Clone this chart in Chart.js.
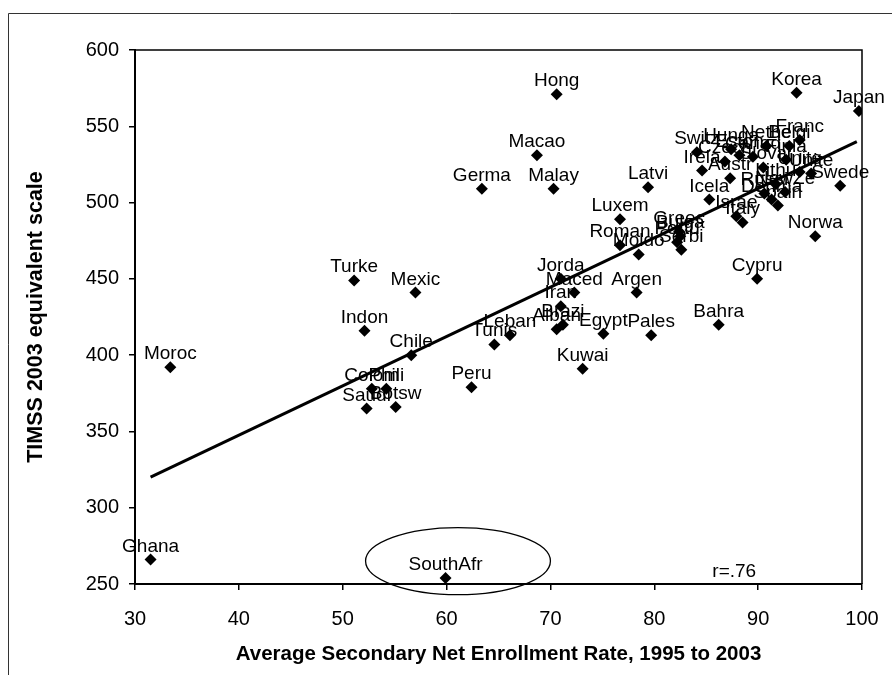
<!DOCTYPE html>
<html>
<head>
<meta charset="utf-8">
<script src="https://cdn.jsdelivr.net/npm/chart.js@4.4.0/dist/chart.umd.min.js"></script>
<style>
  html, body { margin: 0; padding: 0; background: #fff; }
  #wrap { width: 892px; height: 675px; }
</style>
</head>
<body>
<div id="wrap"><canvas id="chart" width="892" height="675"></canvas></div>
<script>
// country labels as printed on the figure (truncated to 5 letters)
const countries = [
  'Ghana', 'Moroc', 'SouthAfr', 'Turke', 'Mexic', 'Indon', 'Chile',
  'Colom', 'Phili', 'Saudi', 'Botsw', 'Peru', 'Tunis', 'Leban',
  'Germa', 'Malay', 'Macao', 'Hong', 'Jorda', 'Maced', 'Iran',
  'Alban', 'Brazi', 'Egypt', 'Pales', 'Kuwai', 'Argen', 'Luxem',
  'Roman', 'Moldo', 'Latvi', 'Bahra', 'Cypru', 'Norwa', 'Swede',
  'Japan', 'Korea', 'Icela', 'Israe', 'Italy',
  'Greec', 'Bulga', 'Portu', 'Serbi',
  'Switz', 'Irela', 'Hunga', 'Czech', 'Eston', 'Nethe', 'Belgi',
  'Franc', 'Canad', 'Slova', 'Unite', 'Unite', 'Finla', 'Austr',
  'Lithu', 'NewZe', 'Russi', 'Denma', 'Spain'
];
// average secondary net enrollment rate, 1995-2003
const enrollment = [
  31.5, 33.4, 59.9, 51.1, 57.0, 52.1, 56.6,
  52.8, 54.2, 52.3, 55.1, 62.4, 64.6, 66.1,
  63.4, 70.3, 68.7, 70.6, 71.0, 72.3, 71.0,
  70.6, 71.2, 75.1, 79.7, 73.1, 78.3, 76.7,
  76.7, 78.5, 79.4, 86.2, 89.9, 95.5, 97.9,
  99.7, 93.7, 85.3, 87.9, 88.5,
  82.4, 82.5, 82.2, 82.6,
  84.1, 84.6, 87.4, 86.8, 88.2, 90.8, 93.0,
  94.0, 89.5, 90.5, 94.0, 95.1, 92.7, 87.3,
  91.7, 92.6, 90.6, 91.3, 91.9
];
// TIMSS 2003 equivalent score
const scores = [
  266, 392, 254, 449, 441, 416, 400,
  378, 378, 365, 366, 379, 407, 413,
  509, 509, 531, 571, 450, 441, 432,
  417, 420, 414, 413, 391, 441, 489,
  472, 466, 510, 420, 450, 478, 511,
  560, 572, 502, 491, 487,
  481, 478, 474, 469,
  533, 521, 535, 527, 531, 537, 537,
  541, 530, 523, 520, 519, 528, 516,
  512, 507, 506, 502, 498
];
// fitted regression line end points
const fitX = [31.5, 99.5];
const fitY = [320, 540];
const xTicks = [30, 40, 50, 60, 70, 80, 90, 100];
const yTicks = [250, 300, 350, 400, 450, 500, 550, 600];
const noteText = 'r=.76';
const notePos = [87.7, 259];
// ellipse around South Africa: centre, half width, half height (data units)
const ringPos = [61.1, 265];
const ringSize = [8.9, 22];

const FONT = '"Liberation Sans", Arial, Helvetica, sans-serif';

const labelPlugin = {
  id: 'labelPlugin',
  afterDatasetsDraw(chart) {
    const ctx = chart.ctx;
    const meta = chart.getDatasetMeta(0);
    const xs = chart.scales.x, ys = chart.scales.y;
    ctx.save();
    ctx.fillStyle = '#000';
    ctx.font = '19px ' + FONT;
    ctx.textAlign = 'center';
    ctx.textBaseline = 'alphabetic';
    meta.data.forEach((pt, i) => {
      ctx.fillText(countries[i], pt.x, pt.y - 8);
    });
    // correlation note
    ctx.fillText(noteText, xs.getPixelForValue(notePos[0]), ys.getPixelForValue(notePos[1]) + 7);
    // ellipse
    const cx = xs.getPixelForValue(ringPos[0]);
    const cy = ys.getPixelForValue(ringPos[1]);
    const rx = xs.getPixelForValue(ringPos[0] + ringSize[0]) - cx;
    const ry = cy - ys.getPixelForValue(ringPos[1] + ringSize[1]);
    ctx.beginPath();
    ctx.ellipse(cx, cy, rx, ry, 0, 0, Math.PI * 2);
    ctx.lineWidth = 1.3;
    ctx.strokeStyle = '#000';
    ctx.stroke();
    ctx.restore();
  },
  afterDraw(chart) {
    const ctx = chart.ctx;
    const a = chart.chartArea;
    ctx.save();
    ctx.strokeStyle = '#000';
    ctx.lineWidth = 1.5;
    ctx.beginPath();
    ctx.moveTo(a.left, a.top);
    ctx.lineTo(a.right, a.top);
    ctx.lineTo(a.right, a.bottom);
    ctx.stroke();
    // outer figure frame
    ctx.strokeStyle = '#333';
    ctx.lineWidth = 1;
    ctx.beginPath();
    ctx.moveTo(8.5, 675);
    ctx.lineTo(8.5, 13.5);
    ctx.lineTo(892, 13.5);
    ctx.stroke();
    ctx.restore();
  }
};

new Chart(document.getElementById('chart'), {
  type: 'scatter',
  data: {
    datasets: [{
      data: enrollment.map((x, i) => ({ x: x, y: scores[i] })),
      pointStyle: 'rectRot',
      pointRadius: 6,
      backgroundColor: '#000',
      borderColor: '#000',
      borderWidth: 0
    }, {
      type: 'line',
      data: fitX.map((x, i) => ({ x: x, y: fitY[i] })),
      borderColor: '#000',
      borderWidth: 3,
      pointRadius: 0,
      fill: false
    }]
  },
  options: {
    responsive: false,
    animation: false,
    layout: { padding: { top: 50, right: 30, left: 0, bottom: 0 } },
    plugins: {
      legend: { display: false },
      tooltip: { enabled: false }
    },
    scales: {
      x: {
        type: 'linear',
        min: 30,
        max: 100,
        afterBuildTicks: (s) => { s.ticks = xTicks.map(v => ({ value: v })); },
        afterFit: (s) => { s.height = 91; s.paddingLeft = 0; s.paddingRight = 0; },
        border: { display: true, color: '#000', width: 2 },
        grid: { display: true, drawOnChartArea: false, drawTicks: true, tickLength: 6, color: '#000', lineWidth: 1.5 },
        ticks: { color: '#000', font: { family: FONT, size: 20 }, padding: 17, maxRotation: 0 },
        title: {
          display: true,
          text: 'Average Secondary Net Enrollment Rate, 1995 to 2003',
          color: '#000',
          font: { family: FONT, size: 20.5, weight: 'bold' },
          padding: { top: 0, bottom: 8 }
        }
      },
      y: {
        type: 'linear',
        min: 250,
        max: 600,
        afterBuildTicks: (s) => { s.ticks = yTicks.map(v => ({ value: v })); },
        afterFit: (s) => { s.width = 135; },
        border: { display: true, color: '#000', width: 2 },
        grid: { display: true, drawOnChartArea: false, drawTicks: true, tickLength: 6, color: '#000', lineWidth: 1.5 },
        ticks: { color: '#000', font: { family: FONT, size: 20 }, padding: 10 },
        title: {
          display: true,
          text: 'TIMSS 2003 equivalent scale',
          color: '#000',
          font: { family: FONT, size: 21.5, weight: 'bold' },
          padding: { top: 23, bottom: 0 }
        }
      }
    }
  },
  plugins: [labelPlugin]
});
</script>
</body>
</html>
